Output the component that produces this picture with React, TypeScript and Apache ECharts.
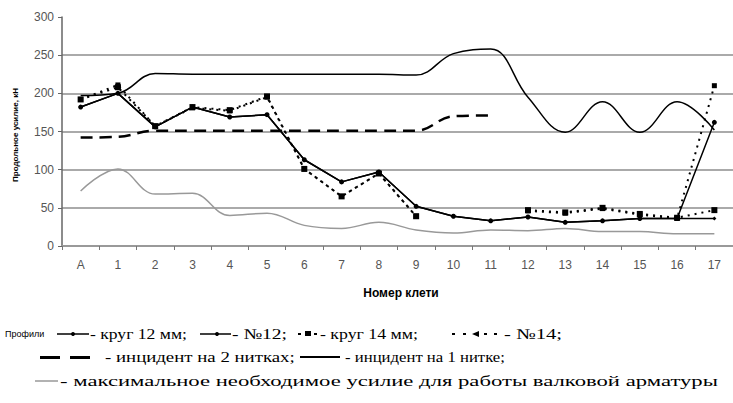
import React, { useEffect, useRef } from "react";
import * as echarts from "echarts";

const categories = ["A", "1", "2", "3", "4", "5", "6", "7", "8", "9", "10", "11", "12", "13", "14", "15", "16", "17"];
const yTicks = [0, 50, 100, 150, 200, 250, 300];
const krug12 = [182, 200, 156, 182, 169, 172, 113, 84, 97, 52, 39, 33, 38, 31, 33, 36, 36, 162];
const no12 = [182, 200, 156, 182, 169, 172, 113, 84, 97, 52, 39, 33, 38, 31, 33, 36, 36, 36];
const krug14 = [192, 208, 157, 182, 178, 196, 101, 65, 95, 39, null, null, 47, 44, 50, 42, 37, 47];
const no14 = [192, 211, 157, 181, 177, 195, 101, 65, 95, 39, null, null, 46, 43, 49, 41, 36, 210];
const incident2 = [142, 143, 151, 151, 151, 151, 151, 151, 151, 151, 170, 171, null, null, null, null, null, null];
const incident1 = [197, 200, 226, 225, 225, 225, 225, 225, 225, 224, 252, 258, 195, 149, 189, 149, 189, 152];
const maxForce = [72, 101, 68, 69, 40, 43, 27, 23, 31, 21, 17, 21, 20, 23, 19, 19, 16, 16];

const legendTexts: [string, number, number, number][] = [
  ["- круг 12 мм;", 90, 187, 334],
  ["- №12;", 232, 287, 334],
  ["- круг 14 мм;", 320, 418, 334],
  ["- №14;", 504, 562, 334],
  ["- инцидент на 2 нитках;", 105, 295, 357],
  ["- инцидент на 1 нитке;", 345, 505, 357],
  ["- максимальное необходимое усилие для работы валковой арматуры", 60, 718, 381],
];

const SERIF = '"Liberation Serif", "Times New Roman", serif';
const SANS = '"Liberation Sans", Arial, sans-serif';

export default function App() {
  const ref = useRef<HTMLDivElement>(null);
  useEffect(() => {
    document.body.style.margin = "0";
    const chart = echarts.init(ref.current!, null, { renderer: "svg" });
    const canvas = document.createElement("canvas");
    const ctx = canvas.getContext("2d")!;
    const fs = 15;
    ctx.font = `${fs}px ${SERIF}`;
    const graphics: any[] = [];
    legendTexts.forEach(([t, x1, x2, y]) => {
      const w = ctx.measureText(t).width;
      graphics.push({
        type: "text",
        x: x1,
        y,
        scaleX: (x2 - x1) / w,
        style: { text: t, fontSize: fs, fontFamily: SERIF, fill: "#000", textVerticalAlign: "middle" },
      });
    });
    graphics.push(
      { type: "text", x: 5, y: 334, style: { text: "Профили", fontSize: 9, fontFamily: SANS, fill: "#000", textVerticalAlign: "middle" } },
      { type: "line", shape: { x1: 57, y1: 334, x2: 89, y2: 334 }, style: { stroke: "#000", lineWidth: 1.5 } },
      { type: "circle", shape: { cx: 73, cy: 334, r: 2 }, style: { fill: "#000" } },
      { type: "line", shape: { x1: 200, y1: 334, x2: 231, y2: 334 }, style: { stroke: "#000", lineWidth: 1.5 } },
      { type: "circle", shape: { cx: 217, cy: 334, r: 2 }, style: { fill: "#000" } },
      { type: "rect", shape: { x: 298, y: 333, width: 3, height: 2 }, style: { fill: "#000" } },
      { type: "rect", shape: { x: 305, y: 331, width: 6, height: 5 }, style: { fill: "#000" } },
      { type: "rect", shape: { x: 314, y: 333, width: 3, height: 2 }, style: { fill: "#000" } },
      { type: "rect", shape: { x: 452, y: 333, width: 3, height: 2 }, style: { fill: "#000" } },
      { type: "rect", shape: { x: 463, y: 333, width: 3, height: 2 }, style: { fill: "#000" } },
      { type: "polygon", shape: { points: [[472, 334], [479, 331], [479, 337]] }, style: { fill: "#000" } },
      { type: "rect", shape: { x: 484, y: 333, width: 3, height: 2 }, style: { fill: "#000" } },
      { type: "rect", shape: { x: 494, y: 333, width: 3, height: 2 }, style: { fill: "#000" } },
      { type: "rect", shape: { x: 40, y: 356, width: 20, height: 3 }, style: { fill: "#000" } },
      { type: "rect", shape: { x: 70, y: 356, width: 20, height: 3 }, style: { fill: "#000" } },
      { type: "line", shape: { x1: 300, y1: 357, x2: 340, y2: 357 }, style: { stroke: "#000", lineWidth: 2 } },
      { type: "line", shape: { x1: 35, y1: 381, x2: 58, y2: 381 }, style: { stroke: "#999", lineWidth: 1.5 } },
      { type: "text", x: 401, y: 293, style: { text: "Номер клети", fontSize: 12, fontWeight: "bold", fontFamily: SANS, fill: "#000", textAlign: "center", textVerticalAlign: "middle" } },
      { type: "text", x: 15, y: 135, rotation: Math.PI / 2, style: { text: "Продольное усилие, кН", fontSize: 8, fontWeight: "bold", fontFamily: SANS, fill: "#000", textAlign: "center", textVerticalAlign: "middle" } }
    );

    const dotted = [2, 5];
    chart.setOption({
      animation: false,
      backgroundColor: "#fff",
      grid: { left: 62, right: -7, top: 17, bottom: 157, containLabel: false },
      xAxis: {
        type: "category",
        data: categories,
        boundaryGap: true,
        axisLine: { lineStyle: { color: "#999", width: 2 } },
        axisTick: { show: true, interval: 0, length: 4, lineStyle: { color: "#777" } },
        axisLabel: { color: "#555", fontSize: 12, fontFamily: SANS, margin: 13, interval: 0 },
      },
      yAxis: {
        type: "value",
        min: yTicks[0],
        max: yTicks[yTicks.length - 1],
        interval: 50,
        axisLine: { show: true, lineStyle: { color: "#666", width: 1.5 } },
        axisTick: { show: true, length: 4, lineStyle: { color: "#666" } },
        axisLabel: { color: "#555", fontSize: 12, fontFamily: SANS, margin: 8 },
        splitLine: { show: true, showMaxLine: false, lineStyle: { color: "#aaa", width: 2 } },
      },
      series: [
        { name: "максимальное необходимое усилие", type: "line", data: maxForce, smooth: 0.4, symbol: "none", lineStyle: { color: "#999", width: 1.5 }, z: 2 },
        { name: "инцидент на 2 нитках", type: "line", data: incident2, smooth: 0.4, symbol: "none", lineStyle: { color: "#000", width: 2.5, type: [12, 7] }, z: 3 },
        { name: "инцидент на 1 нитке", type: "line", data: incident1, smooth: 0.4, symbol: "none", lineStyle: { color: "#000", width: 1.5 }, z: 3 },
        { name: "№12", type: "line", data: no12, symbol: "diamond", symbolSize: 4, itemStyle: { color: "#000" }, lineStyle: { color: "#000", width: 1.5 }, z: 4 },
        { name: "круг 12 мм", type: "line", data: krug12, symbol: "circle", symbolSize: 5, itemStyle: { color: "#000" }, lineStyle: { color: "#000", width: 1.5 }, z: 4 },
        { name: "круг 14 мм", type: "line", data: krug14, symbol: "rect", symbolSize: 6, itemStyle: { color: "#000" }, lineStyle: { color: "#000", width: 2, type: dotted }, z: 5 },
        { name: "№14", type: "line", data: no14, symbol: "rect", symbolSize: 5, itemStyle: { color: "#000" }, lineStyle: { color: "#000", width: 2, type: dotted }, z: 5 },
      ],
      graphic: graphics,
    });
    return () => chart.dispose();
  }, []);
  return <div ref={ref} style={{ width: 733, height: 403 }} />;
}
